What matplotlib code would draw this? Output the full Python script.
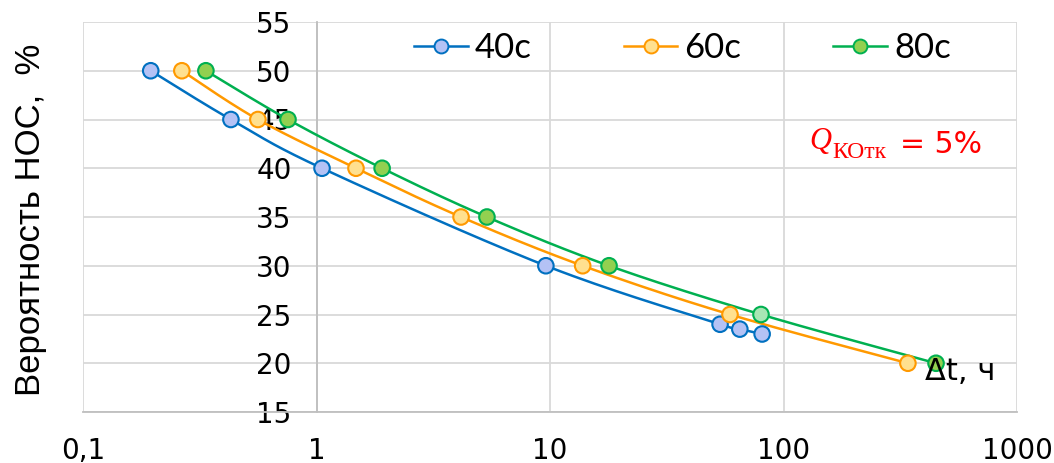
import numpy as np
import matplotlib
matplotlib.use("Agg")
import matplotlib.pyplot as plt
from matplotlib.ticker import FixedLocator, NullLocator

# ---- data ----
series_names = ["40c", "60c", "80c"]
x_40 = [0.195, 0.43, 1.056, 9.6, 53.5, 65.0, 81.0]
y_40 = [50, 45, 40, 30, 24, 23.5, 23]
x_60 = [0.265, 0.561, 1.476, 4.16, 13.8, 59.0, 341.0]
y_60 = [50, 45, 40, 35, 30, 25, 20]
x_80 = [0.336, 0.755, 1.91, 5.37, 17.9, 80.1, 450.0]
y_80 = [50, 45, 40, 35, 30, 25, 20]
x_ticks = [0.1, 1, 10, 100, 1000]
x_tick_labels = ["0,1", "1", "10", "100", "1000"]
y_ticks = [15, 20, 25, 30, 35, 40, 45, 50, 55]

line_colors = ["#0070C0", "#FF9900", "#00B050"]
face_colors = [["#B4C2F5"] * 7,
               ["#FFE08F"] * 7,
               ["#92D050"] * 5 + ["#A8E6B4", "#92D050"]]

W, H = 1054, 463
fig = plt.figure(figsize=(W / 100, H / 100), dpi=100)
ax = fig.add_axes([83 / W, 1 - 412 / H, (1017 - 83) / W, (412 - 22) / H])
ax.set_xscale('log')
ax.set_xlim(0.1, 1000)
ax.set_ylim(15, 55)

# pixel scales used for Excel-like smoothing of the connecting lines
SX = 233.5   # px per decade
SY = 9.75    # px per unit


def smooth(xs, ys, n=30):
    u = np.log10(np.asarray(xs, float)) * SX
    v = np.asarray(ys, float) * SY
    P = np.column_stack([u, v])
    out = [P[0]]
    m = len(P)
    for i in range(m - 1):
        p0 = P[i - 1] if i > 0 else P[i]
        p1 = P[i]
        p2 = P[i + 1]
        p3 = P[i + 2] if i + 2 < m else P[i + 1]
        c1 = p1 + (p2 - p0) / 6.0
        c2 = p2 - (p3 - p1) / 6.0
        t = np.linspace(0, 1, n)[1:, None]
        seg = ((1 - t) ** 3) * p1 + 3 * ((1 - t) ** 2) * t * c1 + 3 * (1 - t) * t ** 2 * c2 + t ** 3 * p2
        out.extend(seg)
    out = np.array(out)
    return 10 ** (out[:, 0] / SX), out[:, 1] / SY


data = [(x_40, y_40), (x_60, y_60), (x_80, y_80)]
handles = []
for (xs, ys), lc, fc, name in zip(data, line_colors, face_colors, series_names):
    sx, sy = smooth(xs, ys)
    ax.plot(sx, sy, color=lc, lw=1.8, zorder=3, solid_capstyle='round')
    ax.scatter(xs, ys, s=125, facecolors=fc, edgecolors=lc, linewidths=1.5, zorder=4)
    h, = ax.plot([], [], color=lc, lw=1.8, marker='o', markersize=10,
                 markerfacecolor=fc[0], markeredgecolor=lc, markeredgewidth=1.4)
    handles.append(h)

# grid
ax.xaxis.set_major_locator(FixedLocator(x_ticks))
ax.xaxis.set_minor_locator(NullLocator())
ax.set_xticklabels(x_tick_labels)
ax.yaxis.set_major_locator(FixedLocator(y_ticks))
ax.grid(True, color="#D9D9D9", lw=1.3, zorder=0)
ax.set_axisbelow(True)

for s in ['top', 'right']:
    ax.spines[s].set_visible(False)
ax.spines['left'].set_position(('data', 1))
ax.spines['left'].set_color("#BFBFBF")
ax.spines['left'].set_linewidth(1.3)
ax.spines['bottom'].set_color("#BFBFBF")
ax.spines['bottom'].set_linewidth(1.3)

ax.tick_params(axis='both', length=0, labelsize=20, labelcolor='black')
ax.tick_params(axis='x', pad=18)
ax.tick_params(axis='y', pad=18)
for lab in ax.get_xticklabels() + ax.get_yticklabels():
    lab.set_fontfamily('DejaVu Sans')

fig.text(31 / W, 1 - 220 / H, "Вероятность НОС,  %", rotation=90,
         ha='center', va='center', fontsize=25, family='Liberation Sans')

leg = ax.legend(handles, series_names, loc='center left', ncol=3, frameon=False,
                prop={'family': 'Lato', 'size': 25}, handlelength=1.55,
                handletextpad=0.2, columnspacing=2.65, borderaxespad=0,
                borderpad=0)
leg.set_bbox_to_anchor((414 / W, 1 - 48 / H), transform=fig.transFigure)

fig.text(925 / W, 1 - 371 / H, "Δt, ч", ha='left', va='center',
         fontsize=22, family='DejaVu Sans')

# Q_KOтк = 5% annotation
fig.text(809 / W, 1 - 149 / H, "Q", ha='left', va='baseline', fontsize=22,
         color='#FF0000', family='Liberation Serif', style='italic')
fig.text(832 / W, 1 - 158 / H, "КОтк", ha='left', va='baseline', fontsize=17,
         color='#FF0000', family='Liberation Serif')
fig.text(900 / W, 1 - 153 / H, "= 5%", ha='left', va='baseline', fontsize=21.5,
         color='#FF0000', family='DejaVu Sans')

fig.savefig("out.png", dpi=100)
